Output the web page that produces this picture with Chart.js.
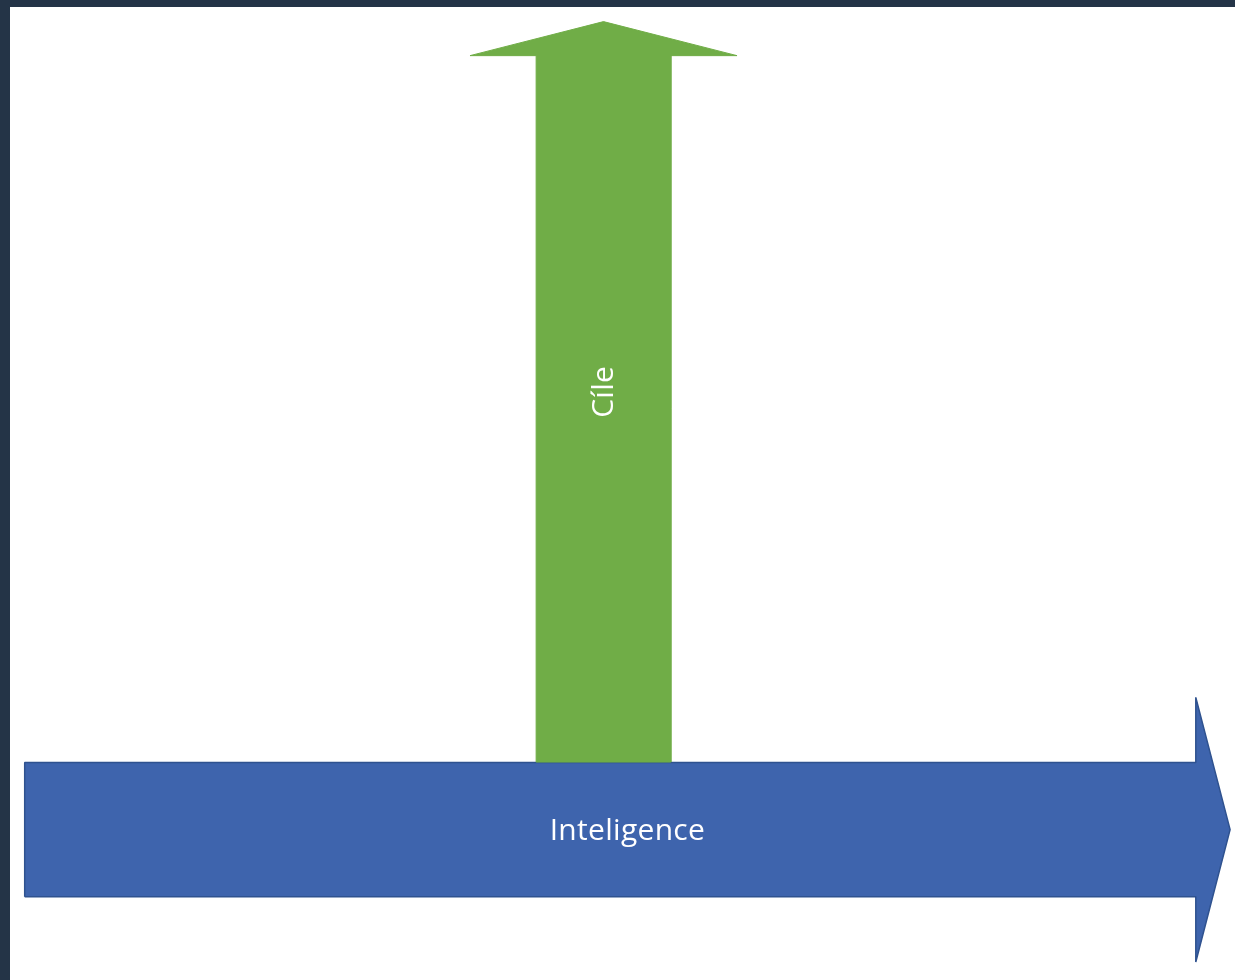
<!DOCTYPE html>
<html>
<head>
<meta charset="utf-8">
<script src="https://cdn.jsdelivr.net/npm/chart.js@4.4.1/dist/chart.umd.min.js"></script>
<style>
  html, body { margin: 0; padding: 0; background: #243447; width: 1235px; height: 980px; overflow: hidden; }
  #wrap { position: absolute; left: 10px; top: 7px; width: 1225px; height: 973px; background: #ffffff; }
  canvas { display: block; }
</style>
</head>
<body>
<div id="wrap"><canvas id="c" width="1225" height="973"></canvas></div>
<script>
// Diagram data (axis units 0-100 on both axes)
const arrowLabels     = ['Cíle', 'Inteligence'];
const arrowDirection  = ['y', 'x'];
const arrowTail       = [22.4, 1.2];
const arrowHeadBase   = [95.0, 96.8];
const arrowTip        = [98.5, 99.6];
const arrowCenter     = [48.45, 15.45];
const arrowBodyHalf   = [5.5, 6.9];
const arrowHeadHalf   = [10.9, 13.6];
const arrowFill       = ['#70AD47', '#3E64AD'];
const arrowBorder     = ['#70AD47', '#2F528F'];

function arrowPoints(i) {
  const t = arrowTail[i], hb = arrowHeadBase[i], tip = arrowTip[i];
  const c = arrowCenter[i], b = arrowBodyHalf[i], h = arrowHeadHalf[i];
  const pts = [
    [t, c - b], [hb, c - b], [hb, c - h], [tip, c],
    [hb, c + h], [hb, c + b], [t, c + b], [t, c - b]
  ];
  return pts.map(p => arrowDirection[i] === 'x' ? {x: p[0], y: p[1]} : {x: p[1], y: p[0]});
}

const datasets = arrowLabels.map((lab, i) => ({
  label: lab,
  data: arrowPoints(i),
  showLine: true,
  fill: 'shape',
  backgroundColor: arrowFill[i],
  borderColor: arrowBorder[i],
  borderWidth: i === 1 ? 1.5 : 1,
  borderJoinStyle: 'bevel',
  pointRadius: 0,
  tension: 0,
  clip: false
}));

const labelPlugin = {
  id: 'arrowLabels',
  afterDatasetsDraw(chart) {
    const ctx = chart.ctx;
    const xs = chart.scales.x, ys = chart.scales.y;
    ctx.save();
    ctx.fillStyle = '#ffffff';
    ctx.font = '30px "Open Sans"';
    ctx.letterSpacing = '0.3px';
    ctx.textAlign = 'center';
    ctx.textBaseline = 'middle';
    arrowLabels.forEach((lab, i) => {
      const mid = (arrowTail[i] + arrowTip[i]) / 2;
      let px, py;
      if (arrowDirection[i] === 'x') {
        px = xs.getPixelForValue(mid); py = ys.getPixelForValue(arrowCenter[i]);
        ctx.save(); ctx.translate(px, py + 2); ctx.fillText(lab, 0, 0); ctx.restore();
      } else {
        px = xs.getPixelForValue(arrowCenter[i]); py = ys.getPixelForValue(mid);
        ctx.save(); ctx.translate(px + 1, py); ctx.rotate(-Math.PI / 2); ctx.fillText(lab, 0, 0); ctx.restore();
      }
    });
    ctx.restore();
  }
};

new Chart(document.getElementById('c'), {
  type: 'scatter',
  data: { datasets },
  options: {
    responsive: false,
    animation: false,
    devicePixelRatio: 1,
    layout: { padding: 0 },
    plugins: { legend: { display: false }, tooltip: { enabled: false }, title: { display: false } },
    scales: {
      x: { type: 'linear', min: 0, max: 100, display: false },
      y: { type: 'linear', min: 0, max: 100, display: false }
    }
  },
  plugins: [labelPlugin]
});
</script>
</body>
</html>
